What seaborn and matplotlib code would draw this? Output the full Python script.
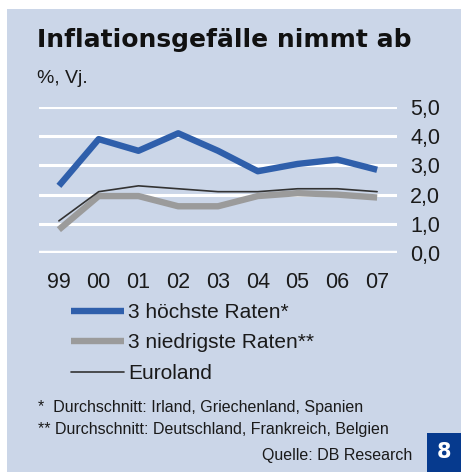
import matplotlib
matplotlib.use("Agg")
from matplotlib import pyplot as plt
from matplotlib.patches import Rectangle
from matplotlib.ticker import FuncFormatter
import seaborn as sns
import pandas as pd

years = ["99", "00", "01", "02", "03", "04", "05", "06", "07"]
hoechste = [2.3, 3.9, 3.5, 4.1, 3.5, 2.8, 3.05, 3.2, 2.85]
niedrigste = [0.8, 1.95, 1.95, 1.6, 1.6, 1.95, 2.05, 2.0, 1.9]
euroland = [1.1, 2.1, 2.3, 2.2, 2.1, 2.1, 2.2, 2.2, 2.1]
labels = ["3 höchste Raten*", "3 niedrigste Raten**", "Euroland"]

BG = "#cbd6e8"
BLUE = "#2f5fab"
GREY = "#9b9b9b"
DARK = "#333333"

sns.set_style("white")
plt.rcParams["font.family"] = ["Liberation Sans", "DejaVu Sans"]

fig = plt.figure(figsize=(4.61, 4.72), dpi=100)
fig.patch.set_facecolor("white")
fig.patches.append(Rectangle((7 / 461, 0), 1, 1 - 9 / 472, transform=fig.transFigure,
                             facecolor=BG, edgecolor="none", zorder=0))

ax = fig.add_axes([39 / 461, 1 - 253 / 472, 358 / 461, 146 / 472])
ax.set_facecolor("none")
ax.set_zorder(2)

df = pd.DataFrame({"year": years, "hoch": hoechste, "niedrig": niedrigste, "euro": euroland})
sns.lineplot(data=df, x="year", y="hoch", color=BLUE, linewidth=4.6, label=labels[0],
             ax=ax, solid_capstyle="butt", zorder=3)
sns.lineplot(data=df, x="year", y="niedrig", color=GREY, linewidth=4.6, label=labels[1],
             ax=ax, solid_capstyle="butt", zorder=2)
sns.lineplot(data=df, x="year", y="euro", color=DARK, linewidth=1.2, label=labels[2],
             ax=ax, zorder=4)

ax.set_xlim(-0.5, 8.5)
ax.set_ylim(0, 5)
ax.set_yticks([0, 1, 2, 3, 4, 5])
ax.yaxis.set_major_formatter(FuncFormatter(lambda v, p: f"{v:.1f}".replace(".", ",")))
ax.yaxis.tick_right()
ax.grid(axis="y", color="white", linewidth=2.2, solid_capstyle="round", zorder=1)
ax.get_ygridlines()[0].set_linewidth(3.2)
ax.set_axisbelow(True)
for s in ax.spines.values():
    s.set_visible(False)
ax.tick_params(axis="y", length=0, pad=9.5, labelsize=15.5, labelcolor="#1a1a1a")
ax.tick_params(axis="x", length=0, pad=14, labelsize=15.5, labelcolor="#1a1a1a")
ax.set_xlabel("")
ax.set_ylabel("")
for ln in ax.get_lines():
    ln.set_clip_on(False)

handles, labs = ax.get_legend_handles_labels()
ax.legend_.remove()
fig.legend(handles, labs, loc="upper left", bbox_to_anchor=(71 / 461, 1 - 303 / 472),
           frameon=False, fontsize=15, handlelength=2.55, handletextpad=0.2,
           labelspacing=0.55, borderpad=0, borderaxespad=0, labelcolor="#1a1a1a")

fig.text(37 / 461, 1 - 47 / 472, "Inflationsgefälle nimmt ab", fontsize=18,
         fontweight="bold", family="DejaVu Sans", color="#111111", va="baseline")
fig.text(37 / 461, 1 - 83 / 472, "%, Vj.", fontsize=14, color="#1a1a1a", va="baseline")
fig.text(38 / 461, 1 - 412 / 472, "*  Durchschnitt: Irland, Griechenland, Spanien",
         fontsize=11.5, color="#1a1a1a", va="baseline")
fig.text(38 / 461, 1 - 434 / 472, "** Durchschnitt: Deutschland, Frankreich, Belgien",
         fontsize=11.5, color="#1a1a1a", va="baseline")
fig.text(412 / 461, 1 - 460 / 472, "Quelle: DB Research", fontsize=11.5,
         color="#1a1a1a", va="baseline", ha="right")

fig.patches.append(Rectangle((427 / 461, 0), 34 / 461, 39 / 472, transform=fig.transFigure,
                             facecolor="#063a8e", edgecolor="none", zorder=1))
fig.text(444 / 461, 1 - 452 / 472, "8", fontsize=15, fontweight="bold", color="white",
         family="DejaVu Sans", ha="center", va="center")

fig.savefig("out.png", dpi=100)
